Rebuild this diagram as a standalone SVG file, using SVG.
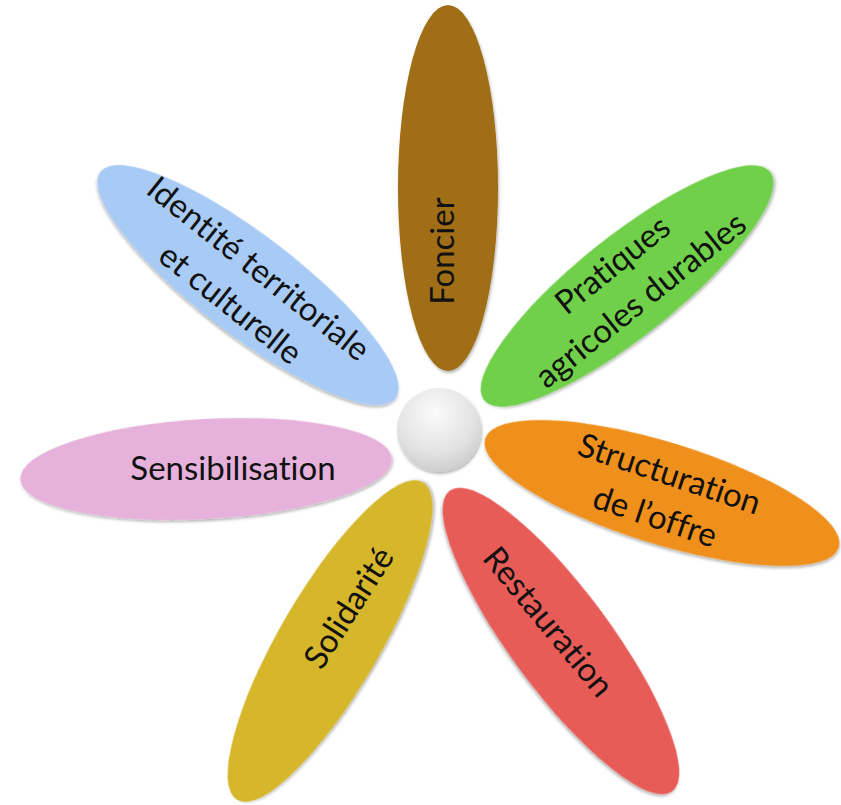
<svg xmlns="http://www.w3.org/2000/svg" width="841" height="805" viewBox="0 0 841 805">
<style>
.lbl{font-family:Lato,"Liberation Sans",sans-serif;font-size:33px;fill:#111;text-anchor:middle;font-variant-ligatures:none;font-feature-settings:"liga" 0}
.petal{filter:url(#sh)}
</style>
<defs>
<filter id="sh" x="-20%" y="-20%" width="140%" height="140%">
<feDropShadow dx="1" dy="2" stdDeviation="1.5" flood-color="#000" flood-opacity="0.3"/>
</filter>
<radialGradient id="ball" cx="0.45" cy="0.3" r="0.8">
<stop offset="0" stop-color="#fbfbfb"/>
<stop offset="0.6" stop-color="#e2e2e2"/>
<stop offset="1" stop-color="#c4c4c4"/>
</radialGradient>
</defs>
<rect width="841" height="805" fill="#fff"/>
<g id="foncier">
<ellipse class="petal" cx="448" cy="188" rx="50" ry="183" fill="#A06E12"/>
<text class="lbl" transform="translate(443,251) rotate(-90)" y="11">Foncier</text>
</g>
<g id="pratiques">
<ellipse class="petal" cx="627" cy="286" rx="183" ry="50" fill="#6FD04A" transform="rotate(-38.6 627 286)"/>
<g transform="translate(627,283) rotate(-38.6)">
<text class="lbl" y="-12">Pratiques</text>
<text class="lbl" y="33">agricoles durables</text>
</g>
</g>
<g id="structuration">
<ellipse class="petal" cx="662" cy="493" rx="185" ry="51" fill="#F0901E" transform="rotate(17.1 662 493)"/>
<g transform="translate(662,496) rotate(18.5)">
<text class="lbl" y="-12">Structuration</text>
<text class="lbl" y="33">de l’offre</text>
</g>
</g>
<g id="restauration">
<ellipse class="petal" cx="561" cy="641" rx="187" ry="50" fill="#E85C58" transform="rotate(53.5 561 641)"/>
<text class="lbl" transform="translate(548,622) rotate(50.3)" y="11">Restauration</text>
</g>
<g id="solidarite">
<ellipse class="petal" cx="330" cy="641" rx="184" ry="50" fill="#D6B62A" transform="rotate(-59.7 330 641)"/>
<text class="lbl" transform="translate(349,608) rotate(-57.3)" y="11">Solidarité</text>
</g>
<g id="sensibilisation">
<ellipse class="petal" cx="206" cy="469" rx="186" ry="50" fill="#E6B1DB" transform="rotate(-3.2 206 469)"/>
<text class="lbl" x="233" y="480">Sensibilisation</text>
</g>
<g id="identite">
<ellipse class="petal" cx="248" cy="285" rx="186" ry="50" fill="#A7CBF5" transform="rotate(37.5 248 285)"/>
<g transform="translate(244,287) rotate(38.5)">
<text class="lbl" y="-12">Identité territoriale</text>
<text class="lbl" y="33">et culturelle</text>
</g>
</g>
<g id="centre">
<circle cx="439" cy="430" r="42" fill="url(#ball)" filter="url(#sh)"/>
</g>
<g id="connectors"/>
</svg>
